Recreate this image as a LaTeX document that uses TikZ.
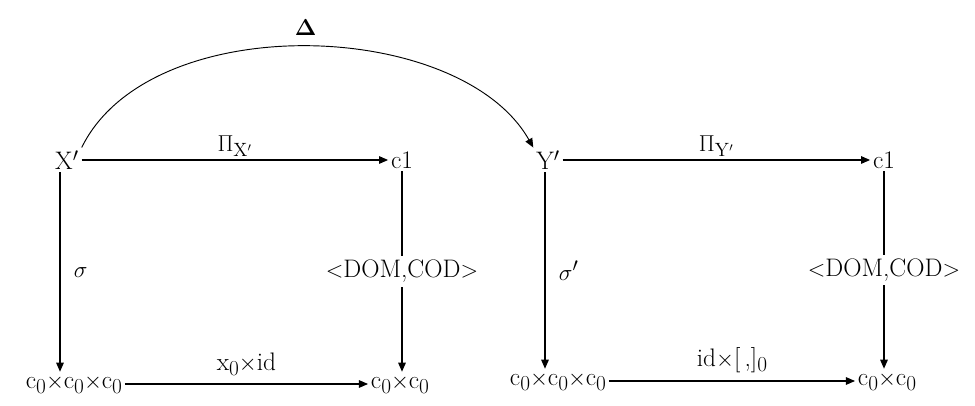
\documentclass[tikz,border=0pt]{standalone}
\usepackage{amsmath}
\usetikzlibrary{arrows.meta,positioning,calc}
\newcommand{\lowz}{\raisebox{-0.45ex}{\fontsize{16}{18}\selectfont 0}}
\tikzset{
  obj/.style={font=\fontsize{19}{22}\selectfont, inner sep=2pt},
  lbl/.style={font=\fontsize{19}{22}\selectfont, inner sep=2pt},
  arr/.style={-{Triangle[length=2.4mm,width=2mm]}, line width=0.9pt},
  cut/.style={lbl, fill=white, inner sep=3pt}
}

\begin{document}
\begin{tikzpicture}[x=0.75pt, y=-0.75pt]
  \useasboundingbox (0,0) rectangle (975,406);
  % objects of the two squares
  \node[obj] (xp) at (67,160) {X$'$};
  \node[obj] (cone) at (402,160) {c1};
  \node[obj] (xtri) at (74,384) {c\lowz$\times$c\lowz$\times$c\lowz};
  \node[obj] (xpair) at (400,384) {c\lowz$\times$c\lowz};
  \node[obj] (yp) at (548,160) {Y$'$};
  \node[obj] (ctwo) at (884,160) {c1};
  \node[obj] (ytri) at (558,381) {c\lowz$\times$c\lowz$\times$c\lowz};
  \node[obj] (ypair) at (887,381) {c\lowz$\times$c\lowz};
  \coordinate (xcol) at (60,0);
  \coordinate (ycol) at (545,0);

  % left square
  \draw[arr] (xp) -- node[lbl, above] {$\Pi_{\mathrm{X}'}$} (cone);
  \draw[arr] (xp.south -| xcol) -- node[lbl, right=8pt] {$\sigma$} (xcol |- xtri.north);
  \draw[arr] (cone.south) -- node[cut] {$<$DOM,COD$>$} (cone.south |- xpair.north);
  \draw[arr] (xtri) -- node[lbl, above=4pt] {x\lowz$\times$id} (xpair);

  % right square
  \draw[arr] (yp) -- node[lbl, above] {$\Pi_{\mathrm{Y}'}$} (ctwo);
  \draw[arr] (yp.south -| ycol) -- node[lbl, right=8pt] {$\sigma'$} (ycol |- ytri.north);
  \draw[arr] (ctwo.south) -- node[cut] {$<$DOM,COD$>$} (ctwo.south |- ypair.north);
  \draw[arr] (ytri) -- node[lbl, above=4pt] {id$\times$[\,,]\lowz} (ypair);

  % arc between the squares
  \draw[arr, line width=0.7pt] (xp.north east) .. controls (150,8) and (460,18) .. node[lbl, above=6pt, pos=0.5] (delta) {$\boldsymbol{\Delta}$} (yp.north west);
\end{tikzpicture}
\end{document}
